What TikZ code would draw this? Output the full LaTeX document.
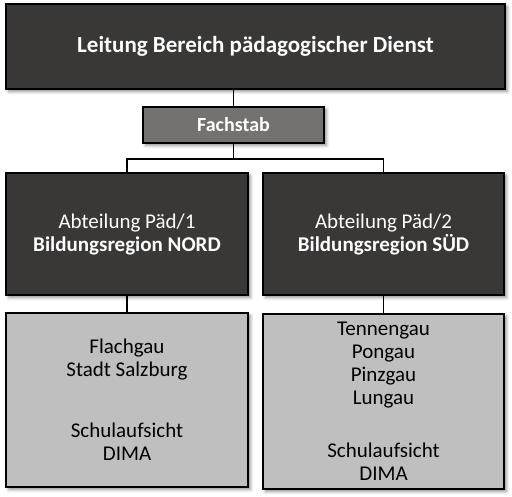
\documentclass[tikz,border=0pt]{standalone}
\usepackage{fontspec}
\setmainfont{Carlito}
\usetikzlibrary{shadows.blur}
\definecolor{darkbox}{HTML}{3A3836}
\definecolor{midbox}{HTML}{75716F}
\definecolor{lightbox}{HTML}{BFBFBF}
\tikzset{
  orgbox/.style={draw=black, line width=1.5pt, rectangle, inner sep=0pt, align=center,
    blur shadow={shadow xshift=2.5pt, shadow yshift=-2.5pt, shadow blur radius=3pt, shadow opacity=45},
    font=\fontsize{21}{23}\selectfont},
  darkstyle/.style={orgbox, fill=darkbox, text=white},
  greystyle/.style={orgbox, fill=midbox, text=white},
  lightstyle/.style={orgbox, fill=lightbox, text=black},
  conn/.style={draw=black, line width=1.3pt}
}
\begin{document}
\begin{tikzpicture}[x=1pt, y=-1pt]
\useasboundingbox (0,0) rectangle (512,496);
\node[darkstyle, minimum width=499pt, minimum height=85pt, font=\fontsize{23}{26}\selectfont\bfseries] (top) at (255.5,46.5) {Leitung Bereich pädagogischer Dienst};
\node[greystyle, minimum width=181pt, minimum height=36pt, font=\fontsize{20}{23}\selectfont\bfseries] (fach) at (233.5,125) {Fachstab};
\node[darkstyle, minimum width=242pt, minimum height=122pt] (midL) at (127,234) {Abteilung Päd/1\\\bfseries Bildungsregion NORD};
\node[darkstyle, minimum width=241pt, minimum height=122pt] (midR) at (383.5,234) {Abteilung Päd/2\\\bfseries Bildungsregion SÜD};
\node[lightstyle, minimum width=242pt, minimum height=174pt] (botL) at (127,400) {Flachgau\\Stadt Salzburg\\[38pt]Schulaufsicht\\DIMA};
\node[lightstyle, minimum width=241pt, minimum height=175pt] (botR) at (383.5,401.5) {Tennengau\\Pongau\\Pinzgau\\Lungau\\[30pt]Schulaufsicht\\DIMA};
\coordinate (bus) at (0,159);
\draw[conn] (top.south -| fach.north) -- (fach.north);
\draw[conn] (fach.south) -- (fach.south |- bus);
\draw[conn] (midL.north) |- (midR.north |- bus) -- (midR.north);
\draw[conn] (midL.south) -- (midL.south |- botL.north);
\draw[conn] (midR.south) -- (midR.south |- botR.north);
\end{tikzpicture}
\end{document}
